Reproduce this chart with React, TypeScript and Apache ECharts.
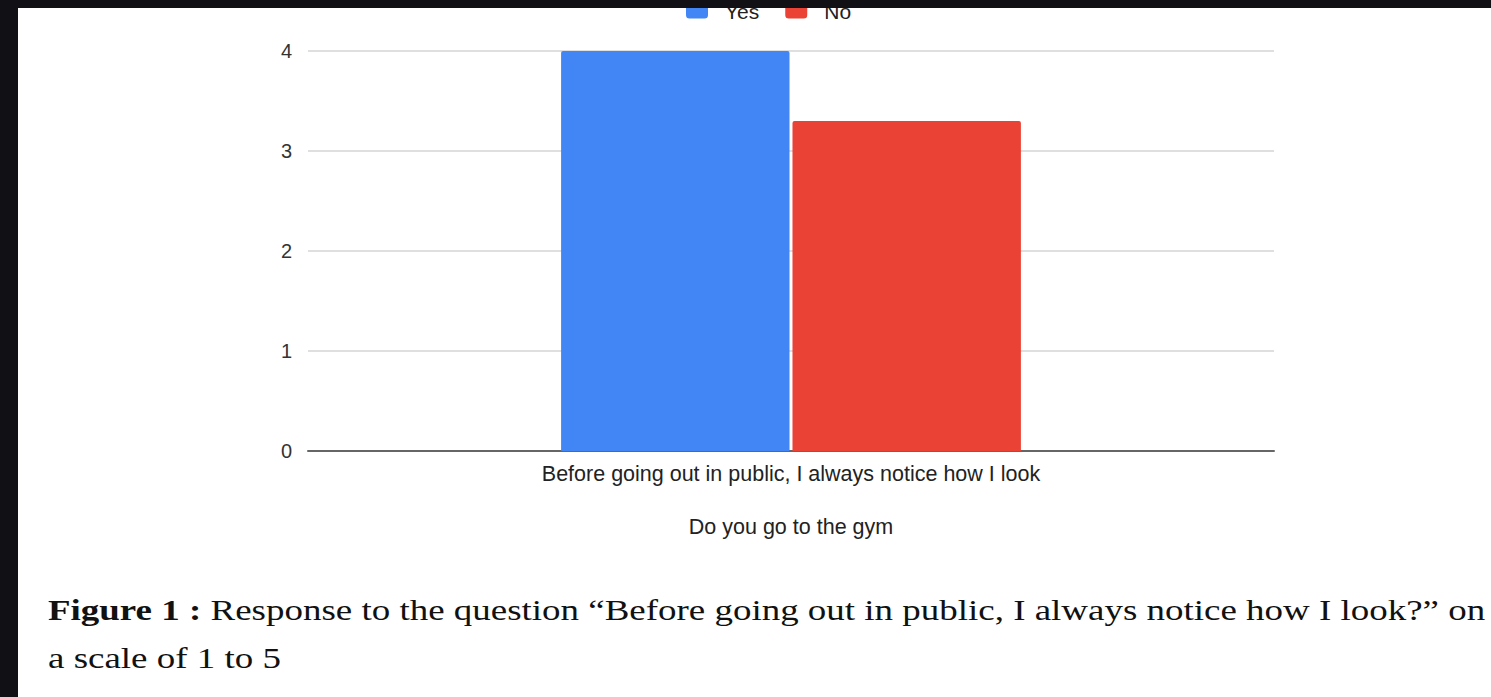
import React, { useEffect, useRef } from "react";
import * as echarts from "echarts";

const categories = ["Before going out in public, I always notice how I look"];
const seriesNames = ["Yes", "No"];
const yesValues = [4];
const noValues = [3.3];
const yTicks = { min: 0, max: 4, interval: 1 };
const xAxisTitle = "Do you go to the gym";
const captionBold = "Figure 1 :";
const captionLine1 = " Response to the question “Before going out in public, I always notice how I look?” on";
const captionLine2 = "a scale of 1 to 5";

export default function App() {
  const ref = useRef<HTMLDivElement>(null);
  useEffect(() => {
    if (!ref.current) return;
    const chart = echarts.init(ref.current, undefined, { renderer: "svg" });
    const sans = "Liberation Sans, Arial, sans-serif";
    const serif = "Liberation Serif, Times New Roman, serif";
    const stretch = 1.232;
    chart.setOption({
      animation: false,
      backgroundColor: "#111014",
      textStyle: { fontFamily: sans },
      legend: {
        top: -4,
        left: 681,
        data: seriesNames,
        itemWidth: 22,
        itemHeight: 14,
        itemGap: 26,
        icon: "roundRect",
        textStyle: { fontSize: 21, color: "#222", fontFamily: sans, padding: [0, 0, 0, 12] },
        z: 1,
      },
      grid: { left: 308, right: 217, top: 51, bottom: 246, containLabel: false },
      xAxis: {
        type: "category",
        data: categories,
        axisTick: { show: false },
        axisLine: { lineStyle: { color: "#666", width: 2 } },
        axisLabel: { fontSize: 21.5, color: "#222", margin: 12, fontFamily: sans },
        name: xAxisTitle,
        nameLocation: "middle",
        nameGap: 65,
        nameTextStyle: { fontSize: 21.5, color: "#222", fontFamily: sans },
      },
      yAxis: {
        type: "value",
        min: yTicks.min,
        max: yTicks.max,
        interval: yTicks.interval,
        axisLine: { show: false },
        axisTick: { show: false },
        axisLabel: { fontSize: 20, color: "#333", margin: 16, fontFamily: sans },
        splitLine: { lineStyle: { color: "#d4d4d4", width: 1.5 } },
      },
      series: [
        {
          name: seriesNames[0],
          type: "bar",
          data: yesValues,
          barCategoryGap: "52.4%",
          barGap: "1.3%",
          itemStyle: { color: "#4285F4", borderRadius: [2, 2, 0, 0] },
        },
        {
          name: seriesNames[1],
          type: "bar",
          data: noValues,
          barCategoryGap: "52.4%",
          barGap: "1.3%",
          itemStyle: { color: "#EA4335", borderRadius: [2, 2, 0, 0] },
        },
      ],
      graphic: [
        {
          type: "rect",
          z: -10,
          shape: { x: 18, y: 8, width: 1491 - 18, height: 697 - 8 },
          style: { fill: "#ffffff" },
          silent: true,
        },
        {
          type: "rect",
          z: 100,
          shape: { x: 0, y: 0, width: 1491, height: 8 },
          style: { fill: "#111014" },
          silent: true,
        },
        {
          type: "text",
          z: 10,
          x: 48,
          y: 610,
          scaleX: stretch,
          style: {
            text: "{b|" + captionBold + "}{n|" + captionLine1 + "}",
            verticalAlign: "middle",
            rich: {
              b: { fontFamily: serif, fontSize: 30, fontWeight: "bold", fill: "#111" },
              n: { fontFamily: serif, fontSize: 30, fill: "#111" },
            },
          },
        },
        {
          type: "text",
          z: 10,
          x: 48,
          y: 658,
          scaleX: stretch,
          style: {
            text: captionLine2,
            verticalAlign: "middle",
            fontFamily: serif,
            fontSize: 30,
            fill: "#111",
          },
        },
      ],
    });
    return () => chart.dispose();
  }, []);
  return (
    <div
      ref={ref}
      style={{ position: "fixed", left: 0, top: 0, width: 1491, height: 697 }}
    />
  );
}
